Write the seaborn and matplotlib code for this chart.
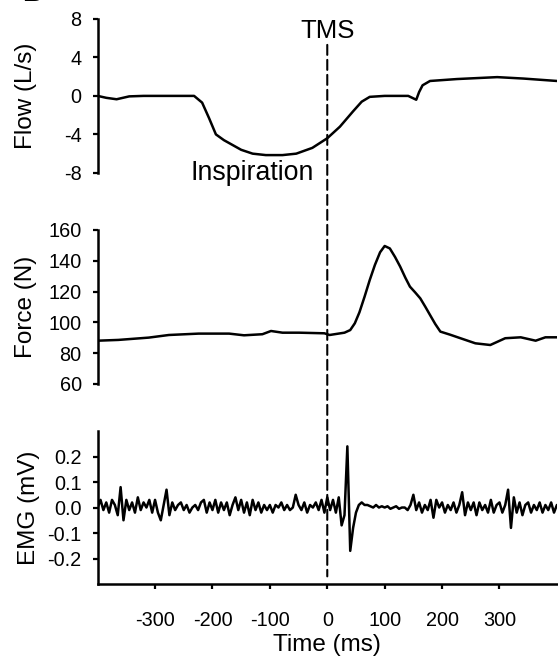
import numpy as np
import matplotlib
matplotlib.use("Agg")
import matplotlib.pyplot as plt
from matplotlib.patches import ConnectionPatch
import seaborn as sns

# flow trace (ms, L/s)
flow_t = [-400, -385, -367, -345, -320, -280, -232, -218, -206, -194, -180, -165,
          -150, -130, -107, -78, -54, -26, 0, 22, 45, 60, 74, 100, 141, 155, 160,
          166, 179, 226, 296, 342, 400]
flow_v = [0.0, -0.2, -0.35, -0.05, 0.0, 0.0, 0.0, -0.7, -2.3, -4.0, -4.6, -5.1,
          -5.6, -6.0, -6.15, -6.15, -6.0, -5.4, -4.4, -3.2, -1.6, -0.6, -0.1, 0.0,
          0.0, -0.4, 0.4, 1.1, 1.55, 1.75, 1.95, 1.8, 1.55]

# force trace (ms, N)
force_t = [-400, -364, -311, -276, -224, -171, -145, -113, -98, -78, -49, -5, 4,
           30, 40, 48, 56, 65, 74, 83, 92, 100, 109, 118, 127, 136, 144, 153, 162,
           171, 179, 188, 197, 214, 232, 258, 284, 310, 337, 363, 380, 400]
force_v = [88.1, 88.6, 90.1, 91.8, 92.7, 92.7, 91.6, 92.3, 94.4, 93.3, 93.3, 92.9,
           91.8, 93.3, 95.0, 99.4, 106.5, 116.7, 127.5, 137.3, 145.5, 149.6, 148.0,
           142.5, 136.2, 129.0, 123.2, 119.5, 115.6, 110.0, 104.8, 99.0, 94.0,
           92.0, 89.7, 86.4, 85.3, 89.7, 90.3, 88.1, 90.3, 90.3]

# EMG trace, sampled every 5 ms from -400 to 400 (mV)
emg_start, emg_step = -400, 5
emg_v = [
    0.00, 0.03, -0.01, 0.02, -0.02, 0.03, 0.01, -0.03, 0.08, -0.05,
    0.03, -0.01, 0.02, -0.02, 0.04, -0.01, 0.02, 0.00, 0.03, -0.02,
    0.03, -0.02, -0.05, 0.01, 0.07, -0.03, 0.02, -0.01, 0.01, 0.02,
    -0.01, 0.01, -0.02, 0.00, 0.01, -0.01, 0.02, 0.03, -0.02, 0.02,
    -0.01, 0.03, -0.02, 0.02, -0.01, 0.02, -0.03, 0.01, 0.04, -0.01,
    0.03, -0.02, 0.02, -0.03, 0.03, -0.01, 0.02, -0.02, 0.01, -0.01,
    0.01, -0.02, 0.01, 0.00, 0.02, -0.01, 0.01, -0.01, 0.00, 0.05,
    0.01, -0.01, 0.02, -0.02, 0.01, 0.00, 0.02, -0.01, 0.03, -0.02,
    0.04, -0.01, 0.03, -0.02, 0.04, -0.07, -0.03, 0.24, -0.17, -0.08,
    -0.02, 0.01, 0.02, 0.01, 0.01, 0.005, 0.0, 0.01, 0.0, 0.005,
    0.0, 0.005, -0.005, 0.0, 0.005, -0.005, 0.0, 0.0, -0.01, 0.01,
    0.05, -0.01, 0.02, -0.02, 0.01, -0.01, 0.03, -0.04, 0.03, 0.00,
    0.02, -0.02, 0.01, -0.01, 0.02, -0.02, 0.01, 0.06, -0.03, 0.02,
    -0.01, 0.02, -0.03, 0.02, -0.01, 0.01, -0.02, 0.03, -0.02, 0.01,
    0.02, -0.02, 0.01, 0.07, -0.08, 0.04, -0.02, 0.02, -0.03, 0.01,
    0.02, -0.02, 0.01, -0.01, 0.02, -0.02, 0.01, -0.01, 0.02, -0.02,
    0.01,
]
emg_t = emg_start + emg_step * np.arange(len(emg_v))

x_ticks = [-300, -200, -100, 0, 100, 200, 300]
flow_ticks = [8, 4, 0, -4, -8]
force_ticks = [160, 140, 120, 100, 80, 60]
emg_ticks = [0.2, 0.1, 0.0, -0.1, -0.2]
tms_time = 0

sns.set_theme(style="ticks")
plt.rcParams["font.family"] = ["Liberation Sans", "DejaVu Sans"]
plt.rcParams.update({"text.color": "black", "axes.labelcolor": "black",
                     "axes.edgecolor": "black", "xtick.color": "black",
                     "ytick.color": "black"})

fig = plt.figure(figsize=(5.58, 6.65), dpi=100)
L, W = 0.175, 0.823
ax1 = fig.add_axes([L, 0.740, W, 0.2316])
ax2 = fig.add_axes([L, 0.4226, W, 0.2316])
ax3 = fig.add_axes([L, 0.1218, W, 0.2300])

lw = 1.8
sns.lineplot(x=flow_t, y=flow_v, ax=ax1, color="black", lw=lw, estimator=None)
sns.lineplot(x=force_t, y=force_v, ax=ax2, color="black", lw=lw, estimator=None)
sns.lineplot(x=emg_t, y=emg_v, ax=ax3, color="black", lw=lw, estimator=None)

ax1.set_ylim(-8, 8)
ax1.set_yticks(flow_ticks)
ax1.set_yticklabels([str(v) for v in flow_ticks])
ax2.set_ylim(60, 160)
ax2.set_yticks(force_ticks)
ax2.set_yticklabels([str(v) for v in force_ticks])
ax3.set_ylim(-0.3, 0.3)
ax3.set_yticks(emg_ticks)
ax3.set_yticklabels([f"{v:.1f}" for v in emg_ticks])
ax3.set_xticks(x_ticks)
ax3.set_xticklabels([str(v) for v in x_ticks])

for ax in (ax1, ax2, ax3):
    ax.set_xlim(-400, 400)
    for s in ("top", "right"):
        ax.spines[s].set_visible(False)
    ax.spines["left"].set_linewidth(1.8)
    ax.spines["bottom"].set_linewidth(1.8)
    ax.tick_params(axis="both", colors="black", labelsize=14.3, width=1.6,
                   length=3.5, direction="out")
    ax.tick_params(axis="y", pad=8)
    ax.tick_params(axis="x", pad=16)

for ax in (ax1, ax2):
    ax.spines["bottom"].set_visible(False)
    ax.set_xticks([])
    ax.set_xlabel("")

lab = 17.5
ax1.set_ylabel("Flow (L/s)", fontsize=lab)
ax2.set_ylabel("Force (N)", fontsize=lab)
ax3.set_ylabel("EMG (mV)", fontsize=lab)
ax3.set_xlabel("Time (ms)", fontsize=lab, labelpad=3)
ax1.yaxis.set_label_coords(-0.133, 0.5)
ax2.yaxis.set_label_coords(-0.133, 0.5)
ax3.yaxis.set_label_coords(-0.126, 0.5)

ax1.text(tms_time, 6.05, "TMS", ha="center", va="baseline", fontsize=18.5,
         clip_on=False)
ax1.text(-130, -8.7, "Inspiration", ha="center", va="baseline", fontsize=19.3,
         clip_on=False)

con = ConnectionPatch(xyA=(tms_time, 5.3), coordsA=ax1.transData,
                      xyB=(tms_time, -0.27), coordsB=ax3.transData,
                      linestyle=(0, (4.8, 2.4)), lw=1.5, color="black")
fig.add_artist(con)

fig.text(0.04, 1.0 - 1.0 / 665, "B", ha="left", va="baseline", fontsize=20,
         fontweight="bold")

fig.savefig("out.png", dpi=100)
